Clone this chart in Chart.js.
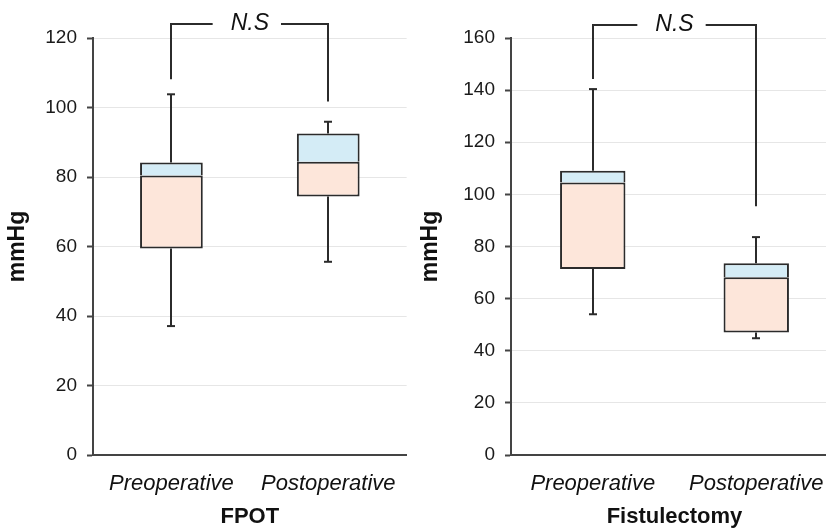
<!DOCTYPE html>
<html>
<head>
<meta charset="utf-8">
<script src="https://cdn.jsdelivr.net/npm/chart.js@4"></script>
<style>
  html, body { margin: 0; padding: 0; background: #fff; width: 826px; height: 530px; overflow: hidden; position: relative; }
  canvas { position: absolute; top: 0; }
</style>
</head>
<body>
<canvas id="c1" width="413" height="530" style="left:0;width:413px;height:530px"></canvas>
<canvas id="c2" width="430" height="530" style="left:413px;width:430px;height:530px"></canvas>
<script>
// ---- data ----
const categories = ['Preoperative', 'Postoperative'];

const fpotMin    = [37.1, 55.6];
const fpotQ1     = [59.4, 74.4];
const fpotMedian = [80.4, 84.4];
const fpotQ3     = [84.2, 92.5];
const fpotMax    = [103.8, 95.9];

const fistMin    = [54.0, 44.8];
const fistQ1     = [71.4, 47.0];
const fistMedian = [104.6, 68.2];
const fistQ3     = [109.1, 73.6];
const fistMax    = [140.4, 83.6];

// significance bracket: [top, left leg end, right leg end]
const fpotBracket = [124, 108.1, 101.7];
const fistBracket = [165, 144.3, 95.4];
const bracketLabel = 'N.S';

const fpotTicksMax = 120;
const fistTicksMax = 160;

Chart.defaults.font.family = '"Liberation Sans", Arial, Helvetica, sans-serif';
Chart.defaults.color = '#1a1a1a';

const LINE = '#2b2b2b';

const whiskerPlugin = {
  id: 'whiskers',
  afterDatasetsDraw(chart) {
    const o = chart.options.plugins.whiskers;
    const x = chart.scales.x, y = chart.scales.y, ctx = chart.ctx;
    ctx.save();
    ctx.strokeStyle = LINE;
    ctx.lineWidth = 2;
    o.min.forEach((mn, i) => {
      const px = Math.round(x.getPixelForValue(i));
      const segs = [[o.q3[i], o.max[i]], [o.q1[i], mn]];
      segs.forEach(([a, b]) => {
        ctx.beginPath();
        ctx.moveTo(px, y.getPixelForValue(a));
        ctx.lineTo(px, y.getPixelForValue(b));
        ctx.stroke();
        ctx.beginPath();
        ctx.moveTo(px - 4, y.getPixelForValue(b));
        ctx.lineTo(px + 4, y.getPixelForValue(b));
        ctx.stroke();
      });
    });
    ctx.restore();
  }
};

const bracketPlugin = {
  id: 'bracket',
  afterDraw(chart) {
    const b = chart.options.plugins.bracket.values;
    const x = chart.scales.x, y = chart.scales.y, ctx = chart.ctx;
    const x0 = Math.round(x.getPixelForValue(0));
    const x1 = Math.round(x.getPixelForValue(1));
    const xm = x.getPixelForValue(0.5);
    const yt = Math.round(y.getPixelForValue(b[0]));
    ctx.save();
    ctx.strokeStyle = LINE;
    ctx.lineWidth = 2;
    ctx.font = 'italic 23px "Liberation Sans", Arial, sans-serif';
    const tw = ctx.measureText(bracketLabel).width;
    const gapL = tw / 2 + 18, gapR = tw / 2 + 12;
    ctx.beginPath();
    ctx.moveTo(x0, y.getPixelForValue(b[1]));
    ctx.lineTo(x0, yt);
    ctx.lineTo(xm - gapL, yt);
    ctx.moveTo(xm + gapR, yt);
    ctx.lineTo(x1, yt);
    ctx.lineTo(x1, y.getPixelForValue(b[2]));
    ctx.stroke();
    ctx.fillStyle = '#111';
    ctx.textAlign = 'center';
    ctx.textBaseline = 'middle';
    ctx.fillText(bracketLabel, xm, yt);
    ctx.restore();
  }
};

function makeChart(id, title, d, yMax, bracket, yWidth, padRight) {
  const [mn, q1, med, q3, mx] = d;
  return new Chart(document.getElementById(id), {
    type: 'bar',
    data: {
      labels: categories,
      datasets: [
        {
          label: 'Q1-median',
          data: categories.map((c, i) => [q1[i], med[i]]),
          backgroundColor: '#fde6da',
          borderColor: LINE, borderWidth: 2, borderSkipped: false,
          grouped: false, barPercentage: 0.4, categoryPercentage: 1
        },
        {
          label: 'median-Q3',
          data: categories.map((c, i) => [med[i], q3[i]]),
          backgroundColor: '#d4ecf6',
          borderColor: LINE, borderWidth: { top: 2, left: 2, right: 2, bottom: 0 }, borderSkipped: false,
          grouped: false, barPercentage: 0.4, categoryPercentage: 1
        }
      ]
    },
    plugins: [whiskerPlugin, bracketPlugin],
    options: {
      responsive: false,
      animation: false,
      devicePixelRatio: 1,
      layout: { padding: { top: 38, right: padRight, left: 0, bottom: 0 } },
      plugins: {
        legend: { display: false },
        tooltip: { enabled: false },
        whiskers: { min: mn, q1: q1, q3: q3, max: mx },
        bracket: { values: bracket }
      },
      scales: {
        x: {
          type: 'category',
          offset: true,
          grid: { display: false, drawTicks: false, tickLength: 0 },
          border: { display: true, color: '#444', width: 2 },
          ticks: { font: { size: 22, style: 'italic' }, color: '#111', padding: 16, maxRotation: 0 },
          title: { display: true, text: title, font: { size: 22, weight: 'bold' }, color: '#111', padding: { top: 0, bottom: 0 } },
          afterFit(s) { s.height = 75; }
        },
        y: {
          min: 0, max: yMax,
          ticks: { stepSize: 20, font: { size: 19 }, color: '#1a1a1a', padding: 10 },
          grid: { color: '#e6e6e6', lineWidth: 1, tickColor: '#444', tickLength: 6, tickWidth: 2 },
          border: { display: true, color: '#444', width: 2 },
          title: { display: true, text: 'mmHg', font: { size: 23, weight: 'bold' }, color: '#111', padding: { top: 4, bottom: 0 } },
          afterFit(s) { s.width = yWidth; }
        }
      }
    }
  });
}

makeChart('c1', 'FPOT', [fpotMin, fpotQ1, fpotMedian, fpotQ3, fpotMax], fpotTicksMax, fpotBracket, 93, 6);
makeChart('c2', 'Fistulectomy', [fistMin, fistQ1, fistMedian, fistQ3, fistMax], fistTicksMax, fistBracket, 98, 5);
</script>
</body>
</html>
